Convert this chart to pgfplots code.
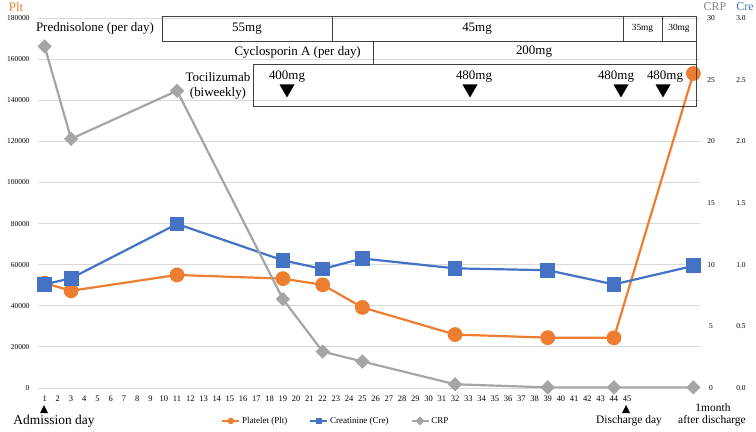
\documentclass[border=0pt]{standalone}
\usepackage{pgfplots}
\pgfplotsset{compat=1.18}
\usepackage{fontspec}
\setmainfont{Liberation Serif}
\definecolor{cplt}{HTML}{ED7D31}
\definecolor{ccre}{HTML}{4472C4}
\definecolor{ccrp}{HTML}{A5A5A5}
\definecolor{cgrid}{HTML}{D9D9D9}
\pgfplotsset{
 base/.style={scale only axis, width=662bp, height=370bp, xmin=0.5, xmax=50.5,
   axis line style={draw=none}, major tick length=0pt,
   /pgf/number format/assume math mode=true,
   tick label style={font=\fontsize{7.5}{9}\selectfont}, clip=false},
 pltstyle/.style={cplt, line width=2.2bp, mark=*, mark size=6.3bp},
 crestyle/.style={ccre, line width=2.2bp, mark=square*, mark size=6.3bp},
 crpstyle/.style={ccrp, line width=2.2bp, mark=square*, mark options={rotate=45}, mark size=4bp},
}
\begin{document}
\begin{tikzpicture}
% Platelet axis (left)
\begin{axis}[base, ymin=0, ymax=180000, ytick={0,20000,...,180000},
  scaled y ticks=false,
  /pgf/number format/fixed, /pgf/number format/precision=0, /pgf/number format/1000 sep={},
  ymajorgrids, grid style={cgrid, line width=0.8bp},
  xtick={1,...,45},
  yticklabel style={anchor=east, xshift=-5bp},
  xticklabel style={anchor=north, yshift=-4bp, font=\fontsize{8.5}{10}\selectfont}]
\addplot[pltstyle] coordinates {(1,51000)(3,47300)(11,55000)(19,53200)(22,50200)(25,39200)(32,26000)(39,24500)(44,24400)(50,153000)};
\end{axis}
% Creatinine axis (right, outer)
\begin{axis}[base, ymin=0, ymax=3, ytick={0,0.5,1,1.5,2,2.5,3},
  axis x line=none, axis y line*=right,
  yticklabel style={anchor=center, xshift=41bp, /pgf/number format/.cd, fixed, fixed zerofill, precision=1}]
\addplot[crestyle] coordinates {(1,0.84)(3,0.89)(11,1.33)(19,1.035)(22,0.965)(25,1.05)(32,0.97)(39,0.955)(44,0.84)(50,0.99)};
\end{axis}
% CRP axis (right, inner)
\begin{axis}[base, ymin=0, ymax=30, ytick={0,5,...,30},
  axis x line=none, axis y line*=right,
  yticklabel style={anchor=center, xshift=11bp, /pgf/number format/fixed},
  legend columns=3,
  legend style={at={(0.45,-0.089)}, anchor=center, draw=none, fill=none,
    font=\fontsize{9}{10}\selectfont,
    /tikz/every even column/.append style={column sep=20bp}},
  legend image post style={mark size=2.3bp, line width=1.8bp}]
\addlegendimage{pltstyle}
\addlegendentry{Platelet (Plt)}
\addlegendimage{crestyle}
\addlegendentry{Creatinine (Cre)}
\addplot[crpstyle] coordinates {(1,27.7)(3,20.2)(11,24.1)(19,7.2)(22,2.95)(25,2.15)(32,0.3)(39,0.05)(44,0.05)(50,0.05)};
\addlegendentry{CRP}
\end{axis}
\begin{scope}[x=1bp,y=1bp]
% axis titles
\node[cplt, font=\fontsize{13}{14}\selectfont] at (-22,381) {Plt};
\node[ccrp!80!black, font=\fontsize{12}{13}\selectfont] at (677,381) {CRP};
\node[ccre, font=\fontsize{12}{13}\selectfont] at (707,381) {Cre};
% Prednisolone row
\draw[line width=0.8bp, black!75] (124,347) rectangle (658,372);
\draw[line width=0.8bp, black!75] (294,347) -- (294,372) (585,347) -- (585,372) (624,347) -- (624,372);
\node[font=\fontsize{13}{15}\selectfont] at (57,359.5) {Prednisolone (per day)};
\node[font=\fontsize{13}{15}\selectfont] at (209,359.5) {55mg};
\node[font=\fontsize{13}{15}\selectfont] at (439,359.5) {45mg};
\node[font=\fontsize{9.4}{11}\selectfont] at (604.5,359.5) {35mg};
\node[font=\fontsize{9.4}{11}\selectfont] at (641,359.5) {30mg};
% Cyclosporin row
\draw[line width=0.8bp, black!75] (335,324) rectangle (658,347);
\node[font=\fontsize{13}{15}\selectfont, anchor=east, inner sep=0pt] at (323,336) {Cyclosporin A (per day)};
\node[font=\fontsize{13}{15}\selectfont] at (496,336) {200mg};
% Tocilizumab row
\draw[line width=0.8bp, black!75] (215,282) rectangle (658,324);
\node[font=\fontsize{13}{15}\selectfont, align=center] at (180,302) {Tocilizumab\\(biweekly)};
\node[font=\fontsize{13}{15}\selectfont] at (249,311) {400mg};
\node[font=\fontsize{13}{15}\selectfont] at (436,311) {480mg};
\node[font=\fontsize{13}{15}\selectfont] at (578,311) {480mg};
\node[font=\fontsize{13}{15}\selectfont] at (627,311) {480mg};
\foreach \tx in {249,432,583,625}{
  \fill (\tx-7.5,303.5) -- (\tx+7.5,303.5) -- (\tx,290.5) -- cycle;
}
% bottom annotations
\fill (2,-25) -- (10,-25) -- (6,-17) -- cycle;
\node[font=\fontsize{13.5}{15}\selectfont] at (16,-33) {Admission day};
\fill (584,-25) -- (592,-25) -- (588,-17) -- cycle;
\node[font=\fontsize{11.5}{13}\selectfont] at (591,-33) {Discharge day};
\node[font=\fontsize{11.5}{13}\selectfont] at (675,-20) {1month};
\node[font=\fontsize{11.5}{13}\selectfont] at (674,-33) {after discharge};
\end{scope}
\pgfresetboundingbox
\useasboundingbox (-38bp,-44bp) rectangle (718bp,388bp);
\end{tikzpicture}
\end{document}
